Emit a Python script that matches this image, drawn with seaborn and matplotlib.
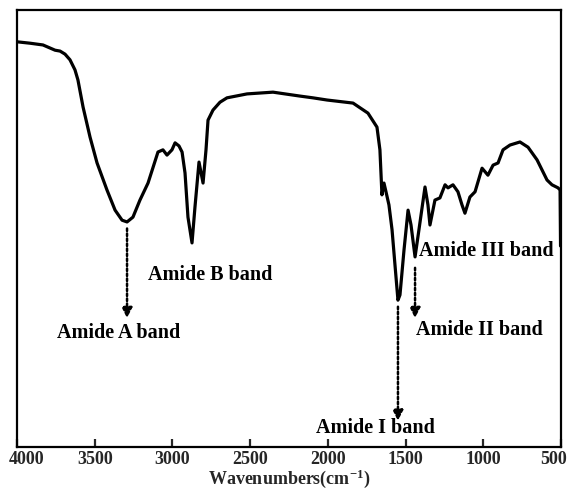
import numpy as np
import pandas as pd
import matplotlib
matplotlib.use("Agg")
import matplotlib.pyplot as plt
import matplotlib.transforms as mtransforms
import seaborn as sns

# ---- data ----
wavenumber = [3994, 3916, 3833, 3755, 3723, 3691, 3659, 3627, 3608, 3575, 3530, 3485,
              3421, 3369, 3324, 3292, 3254, 3209, 3157, 3093, 3061, 3035, 3003, 2983,
              2958, 2938, 2919, 2900, 2874, 2855, 2829, 2803, 2784, 2771, 2739, 2694,
              2649, 2520, 2353, 2179, 2096, 2005, 1838, 1742, 1684, 1665, 1652, 1639,
              1626, 1607, 1587, 1568, 1549, 1536, 1510, 1484, 1465, 1439, 1414, 1375,
              1356, 1343, 1311, 1279, 1246, 1227, 1195, 1163, 1137, 1118, 1086, 1053,
              1008, 970, 937, 905, 873, 828, 764, 712, 654, 590, 558, 519, 506, 503]
transmittance = [92.7, 92.4, 92.0, 90.8, 90.6, 89.9, 88.6, 86.3, 84.0, 77.8, 70.9, 65.0,
                 58.8, 54.2, 51.9, 51.5, 52.6, 56.5, 60.4, 67.5, 68.0, 66.8, 68.0, 69.6,
                 68.9, 67.5, 62.7, 52.6, 46.7, 54.9, 65.2, 60.4, 68.0, 74.8, 77.1, 78.9,
                 79.9, 80.8, 81.2, 80.3, 79.9, 79.4, 78.7, 76.4, 73.2, 68.0, 57.7, 60.4,
                 58.4, 55.4, 49.7, 41.6, 33.6, 34.8, 45.1, 54.2, 50.8, 43.5, 49.7, 59.5,
                 55.4, 50.8, 56.5, 57.0, 60.0, 59.3, 60.0, 58.4, 55.4, 53.5, 57.2, 58.4,
                 63.8, 62.2, 64.5, 65.0, 68.0, 69.1, 69.8, 68.6, 65.7, 61.1, 60.0, 59.3,
                 58.8, 46.0]

x_ticks = [4000, 3500, 3000, 2500, 2000, 1500, 1000, 500]

band_labels = ["Amide A band", "Amide B band", "Amide I band", "Amide II band", "Amide III band"]
band_peaks = [3292, 2874, 1549, 1439, 1439]

df = pd.DataFrame({"wn": wavenumber, "T": transmittance})

# ---- style ----
sns.set_theme(style="white")
plt.rcParams["font.family"] = ["Liberation Serif", "DejaVu Serif"]
plt.rcParams["font.weight"] = "bold"
plt.rcParams["mathtext.fontset"] = "custom"
plt.rcParams["mathtext.rm"] = "Liberation Serif:bold"
plt.rcParams["mathtext.bf"] = "Liberation Serif:bold"
plt.rcParams["mathtext.default"] = "bf"

fig = plt.figure(figsize=(5.72, 4.92), dpi=100)
ax = fig.add_axes([17 / 572, 45 / 492, 544 / 572, 437 / 492])

sns.lineplot(data=df, x="wn", y="T", ax=ax, color="black", lw=2.3,
             estimator=None, sort=False)

ax.set_xlim(4000, 500)
ax.set_ylim(0, 100)
ax.set_xticks(x_ticks)
ax.set_xticklabels([str(t) for t in x_ticks], fontsize=13, fontweight="bold")
ax.set_yticks([])
ax.tick_params(axis="x", direction="in", length=6, width=1.6, pad=3, bottom=True)
ax.set_xlabel("Wavenumbers(cm$^{-1}$)", fontsize=13, fontweight="bold", labelpad=-0.5)
ax.set_ylabel("")
for s in ax.spines.values():
    s.set_linewidth(1.6)
    s.set_color("black")

# keep end labels inside the figure, as in the reference
labels = ax.get_xticklabels()
labels[0].set_transform(labels[0].get_transform() +
                        mtransforms.ScaledTranslation(10 / 100, 0, fig.dpi_scale_trans))
labels[-1].set_transform(labels[-1].get_transform() +
                         mtransforms.ScaledTranslation(-7 / 100, 0, fig.dpi_scale_trans))

wn_arr = np.array(wavenumber)
t_arr = np.array(transmittance)


def val_at(w):
    return float(t_arr[np.argmin(np.abs(wn_arr - w))])


arrow_kw = dict(arrowstyle="-|>,head_length=0.5,head_width=0.25",
                linestyle=(0, (1, 1)), lw=1.8, color="black",
                shrinkA=0, shrinkB=0)
txt_kw = dict(fontsize=14.5, fontweight="bold", color="black", ha="center", va="center")

# Amide A
w = band_peaks[0]
ax.annotate("", xy=(w, 29.5), xytext=(w, val_at(w) - 1.5), arrowprops=arrow_kw)
ax.text(3347, 26.1, band_labels[0], **txt_kw)
# Amide B
ax.text(2755, 39.4, band_labels[1], **txt_kw)
# Amide I
w = band_peaks[2]
ax.annotate("", xy=(w, 6.0), xytext=(w, val_at(w) - 1.5), arrowprops=arrow_kw)
ax.text(1697, 4.3, band_labels[2], **txt_kw)
# Amide II
w = band_peaks[3]
ax.annotate("", xy=(w, 29.5), xytext=(w, val_at(w) - 2.5), arrowprops=arrow_kw)
ax.text(1024, 26.8, band_labels[3], **txt_kw)
# Amide III
ax.text(979, 44.9, band_labels[4], **txt_kw)

fig.savefig("out.png", dpi=100)
